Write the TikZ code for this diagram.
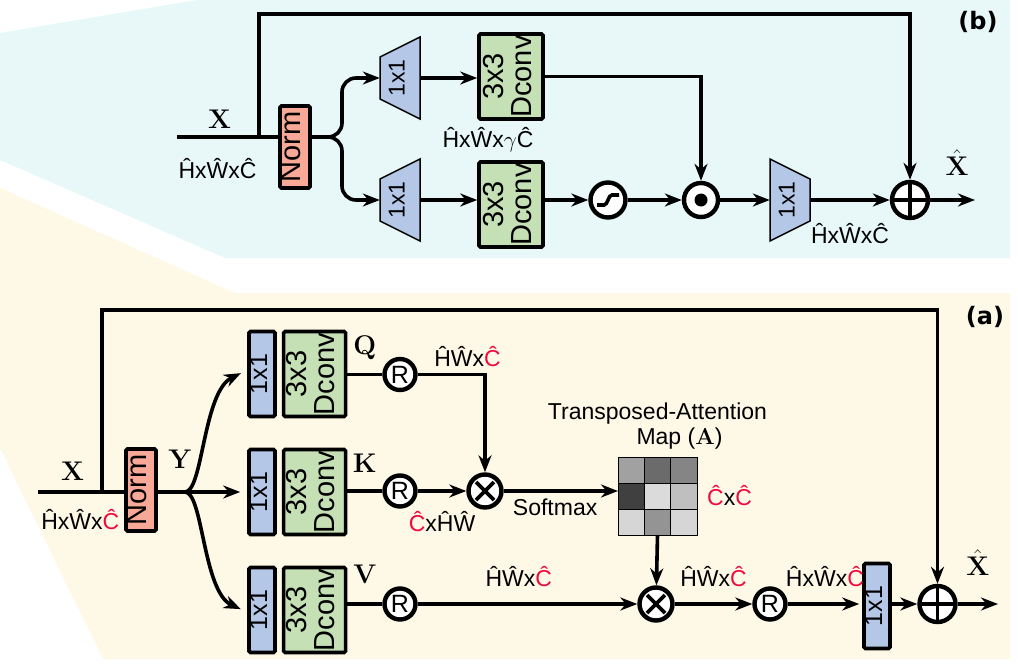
\RequirePackage{fix-cm}
\documentclass[tikz,border=0pt]{standalone}
\usepackage{amsmath}
\usepackage{fontspec}
\setsansfont{Liberation Sans}
\newfontfamily\tagfont{DejaVu Sans}
\usepackage{tikz}
\usetikzlibrary{positioning, arrows.meta, calc}
\definecolor{panelb}{RGB}{232,248,249}
\definecolor{panela}{RGB}{254,248,230}
\definecolor{normred}{RGB}{248,168,150}
\definecolor{convgreen}{RGB}{197,224,180}
\definecolor{projblue}{RGB}{180,199,231}
\definecolor{hatred}{RGB}{240,10,60}
\newcommand{\vtext}[1]{\rotatebox{90}{\begin{tabular}{@{}c@{}}#1\end{tabular}}}
\newcommand{\redC}{{\color{hatred}Ĉ}}
\tikzset{
    box/.style={draw, line width=3.6pt, rounded corners=1.5pt, inner sep=0pt, font=\sffamily\fontsize{29}{27}\selectfont},
    normbox/.style={box, fill=normred, minimum width=30pt, minimum height=82pt},
    convbox/.style={box, fill=convgreen, minimum width=62pt, minimum height=85pt},
    projbox/.style={box, fill=projblue, minimum width=26pt, minimum height=85pt, font=\sffamily\fontsize{25}{25}\selectfont},
    op/.style={circle, draw, line width=4.4pt, fill=white, minimum size=31pt, inner sep=0pt, font=\sffamily\fontsize{25}{25}\selectfont},
    times/.style={op, minimum size=33pt, path picture={
        \draw[black, line width=3.8pt] ([shift={(-9pt,-9pt)}]path picture bounding box.center) -- ([shift={(9pt,9pt)}]path picture bounding box.center)
                              ([shift={(-9pt,9pt)}]path picture bounding box.center) -- ([shift={(9pt,-9pt)}]path picture bounding box.center);}},
    plus/.style={op, minimum size=36pt, path picture={
        \draw[black, line width=3.8pt] ([xshift=-16pt]path picture bounding box.center) -- ([xshift=16pt]path picture bounding box.center)
                              ([yshift=-16pt]path picture bounding box.center) -- ([yshift=16pt]path picture bounding box.center);}},
    dot/.style={op, minimum size=34pt, path picture={\fill[black] (path picture bounding box.center) circle[radius=6.5pt];}},
    sigm/.style={op, minimum size=35pt, path picture={
        \draw[black, line width=3.6pt] ([shift={(-11pt,-5pt)}]path picture bounding box.center) -- ([shift={(-4pt,-5pt)}]path picture bounding box.center)
            .. controls ([shift={(0pt,-5pt)}]path picture bounding box.center) and ([shift={(0pt,5pt)}]path picture bounding box.center)
            .. ([shift={(4pt,5pt)}]path picture bounding box.center) -- ([shift={(11pt,5pt)}]path picture bounding box.center);}},
    attn/.style={minimum width=79pt, minimum height=78pt, inner sep=0pt, outer sep=0pt},
    flow/.style={line width=3.6pt},
    arr/.style={flow, -{Stealth[length=17pt, width=13pt]}},
    dim/.style={font=\sffamily\fontsize{23}{25}\selectfont, inner sep=2pt},
    sym/.style={font=\rmfamily\bfseries\fontsize{27}{27}\selectfont, inner sep=1pt},
    tag/.style={font=\tagfont\bfseries\fontsize{24}{24}\selectfont},
    funnel/.pic={
    \draw[fill=projblue, line width=1.5pt] (-20*#1,-21) -- (20*#1,-41) -- (20*#1,41) -- (-20*#1,21) -- cycle;
    \node[font=\sffamily\fontsize{23}{23}\selectfont, minimum width=40pt, minimum height=42pt, inner sep=0pt] (-c) {\vtext{1x1}};
    },
}
\begin{document}
\begin{tikzpicture}[x=1pt, y=-1pt]
    \useasboundingbox (0,0) rectangle (1018,664);
    \fill[panelb] (0,33) -- (197,0) -- (1010,0) -- (1010,258) -- (225,258) -- (0,160) -- cycle;
    \fill[panela] (0,188) -- (235,293) -- (1010,293) -- (1010,659) -- (103,659) -- (0,448) -- cycle;

    % (b)
    \coordinate (inb) at (177,137);
    \coordinate (sb) at (259,137);
    \coordinate (fb) at (342,137);
    \coordinate (topb) at (600,14);
    \coordinate (outb) at (975,200);

    \node[normbox] (nb) at (295,147) {\vtext{Norm}};
    \pic (pu) at (400,78) {funnel=1};
    \pic (pl) at (400,200) {funnel=1};
    \node[convbox, minimum width=64pt] (du) at (511,76.5) {\vtext{3x3\\Dconv}};
    \node[convbox, minimum width=64pt] (dl) at (511,204.5) {\vtext{3x3\\Dconv}};
    \node[dim] (gb) at (488,140) {ĤxŴx$\gamma$Ĉ};
    \node[sigm] (sg) at (608,200) {};
    \node[dot] (od) at (701,200) {};
    \pic (po) at (790,200) {funnel=-1};
    \node[plus] (addb) at (910,200) {};
    \node[tag] (tagb) at (978,22) {(b)};

    \draw[flow] (inb) -- node[sym, above=6pt, pos=0.42] {X} node[dim, below=18pt, pos=0.4] {ĤxŴxĈ} (nb.west |- inb);
    \draw[arr, rounded corners=14pt] (nb.east |- inb) -- (fb) -- (fb |- pu-c.west) -- (pu-c.west);
    \draw[arr, rounded corners=14pt] (nb.east |- inb) -- (fb) -- (fb |- pl-c.west) -- (pl-c.west);
    \draw[arr] (pu-c.east) -- (pu-c.east -| du.west);
    \draw[arr] (pl-c.east) -- (pl-c.east -| dl.west);
    \draw[arr] (dl.east |- pl-c.east) -- (sg);
    \draw[arr] (sg) -- (od);
    \draw[arr] (du.east) -| (od);
    \draw[arr] (od) -- (po-c);
    \draw[arr] (po-c) -- node[dim, below=20pt] {ĤxŴxĈ} (addb);
    \draw[arr] (addb) -- node[sym, above=22pt, pos=0.6] {$\hat{\text{X}}$} (outb);
    \draw[arr] (sb) |- (topb) -| (addb);

    % (a)
    \coordinate (ina) at (38,492);
    \coordinate (sa) at (102,492);
    \coordinate (fa) at (185,492);
    \coordinate (topa) at (500,310);
    \coordinate (outa) at (998,604);

    \node[normbox] (na) at (141,490) {\vtext{Norm}};
    \node[projbox] (pq) at (262,374) {\vtext{1x1}};
    \node[convbox, right=5pt of pq] (dq) {\vtext{3x3\\Dconv}};
    \node[projbox] (pk) at (262,492) {\vtext{1x1}};
    \node[convbox, right=5pt of pk] (dk) {\vtext{3x3\\Dconv}};
    \node[projbox] (pv) at (262,610) {\vtext{1x1}};
    \node[convbox, right=5pt of pv] (dv) {\vtext{3x3\\Dconv}};
    \node[op] (rq) at (400,374.5) {R};
    \node[op] (rk) at (400,491) {R};
    \node[op] (rv) at (400,604) {R};
    \node[times] (mk) at (485,491) {};
    \node[attn] (am) at (657.5,496) {};
    \foreach \g [count=\i from 0] in {37,58,48,75,14,25,16,42,16} {
        \pgfmathtruncatemacro{\col}{mod(\i,3)}
        \pgfmathtruncatemacro{\row}{div(\i,3)}
        \filldraw[fill=black!\g, line width=0.8pt] ($(am.north west)+(\col*79/3,\row*26)$) rectangle ++(79/3,26);
    }
    \node[dim, align=center, above=6pt of am] (title) {Transposed-Attention\\\hspace*{44pt}Map ({\rmfamily\bfseries A})};
    \node[dim, right=8pt of am] (cc) {\redC x\redC};
    \node[times] (mv) at (656,604) {};
    \node[op] (rr) at (770,604) {R};
    \node[projbox] (pout) at (877,606) {\vtext{1x1}};
    \node[plus] (adda) at (937.5,604) {};
    \node[tag] (taga) at (985,317) {(a)};

    \draw[flow] (ina) -- node[sym, above=9pt, pos=0.4] {X} node[dim, below=14pt, pos=0.49] {ĤxŴx\redC} (na.west |- ina);
    \draw[flow] (na.east |- ina) -- node[sym, above=21pt, pos=0.81] {Y} (fa);
    \draw[arr, shorten >=7pt] (fa) -- (pk);
    \draw[arr, shorten >=7pt] (fa) .. controls (203,492) and (203,392) .. ([yshift=4pt]pq.west);
    \draw[arr, shorten >=7pt] (fa) .. controls (203,492) and (203,592) .. ([yshift=-2pt]pv.west);
    \draw[flow] (dq.east |- rq) -- node[sym, above=12pt] {Q} (rq);
    \draw[flow] (dk.east |- rk) -- node[sym, above=16pt] {K} (rk);
    \draw[flow] (dv.east |- rv) -- node[sym, above=17pt] {V} (rv);
    \draw[arr] (rq) -| node[dim, above=4pt, pos=0.37] {ĤŴx\redC} (mk);
    \draw[arr] (rk) -- node[dim, below=17pt] {\redC xĤŴ} (mk);
    \draw[arr] (mk) -- node[dim, below=4pt, pos=0.45] {Softmax} (mk -| am.west);
    \draw[arr] (am.south) -- (mv);
    \draw[arr] (rv) -- node[dim, above=13pt, pos=0.46] {ĤŴx\redC} (mv);
    \draw[arr] (mv) -- node[dim, above=13pt] {ĤŴx\redC} (rr);
    \draw[arr, shorten >=3pt] (rr) -- node[dim, above=13pt] {ĤxŴx\redC} (rr -| pout.west);
    \draw[arr] (pout.east |- rr) -- (adda);
    \draw[arr] (adda) -- node[sym, above=26pt] {$\hat{\text{X}}$} (outa);
    \draw[arr] (sa) |- (topa) -| (adda);
\end{tikzpicture}
\end{document}
